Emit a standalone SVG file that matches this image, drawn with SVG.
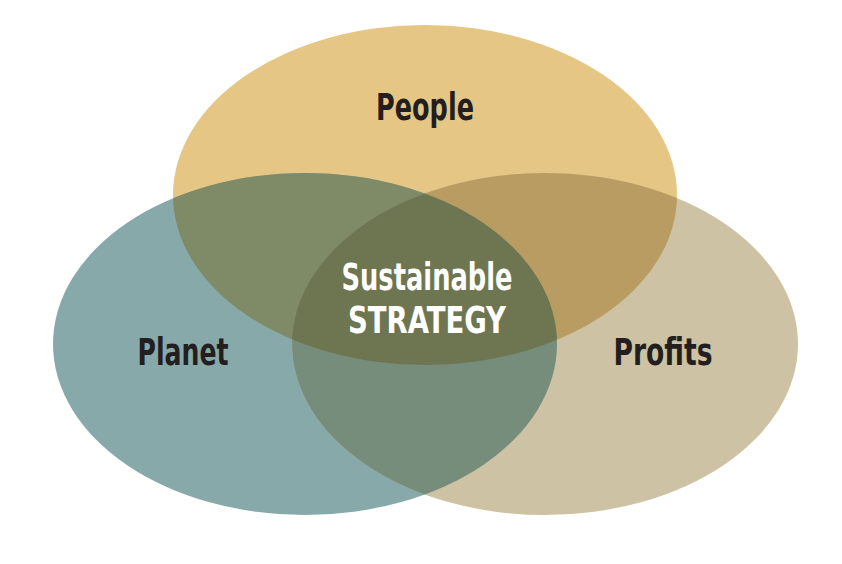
<svg xmlns="http://www.w3.org/2000/svg" width="842" height="564" viewBox="0 0 842 564">
<style>
.lbl{font-family:"DejaVu Sans Condensed","DejaVu Sans","Liberation Sans",sans-serif;font-stretch:condensed;font-weight:bold;font-size:37px;text-anchor:middle}
.dark{fill:#231f20}
.light{fill:#ffffff}
</style>
<defs>
<ellipse id="ePeople" cx="425" cy="195" rx="252" ry="170"/>
<ellipse id="ePlanet" cx="305" cy="344" rx="252" ry="171"/>
<ellipse id="eProfits" cx="545" cy="344" rx="253" ry="171"/>
<clipPath id="cPeople"><use href="#ePeople"/></clipPath>
<clipPath id="cPlanet"><use href="#ePlanet"/></clipPath>
<clipPath id="cProfits"><use href="#eProfits"/></clipPath>
</defs>
<rect width="842" height="564" fill="#ffffff"/>
<g id="people"><use href="#ePeople" fill="#e6c684"/></g>
<g id="planet"><use href="#ePlanet" fill="#87a9aa"/></g>
<g id="profits"><use href="#eProfits" fill="#cdc2a3"/></g>
<g id="overlaps">
<use href="#ePlanet" fill="#7f8a66" clip-path="url(#cPeople)"/>
<use href="#eProfits" fill="#b99c62" clip-path="url(#cPeople)"/>
<use href="#eProfits" fill="#778d7c" clip-path="url(#cPlanet)"/>
<g clip-path="url(#cPeople)"><use href="#eProfits" fill="#6e7551" clip-path="url(#cPlanet)"/></g>
</g>
<g id="labels">
<text class="lbl dark" x="425" y="120" textLength="98" lengthAdjust="spacingAndGlyphs">People</text>
<text class="lbl dark" x="183" y="365" textLength="91" lengthAdjust="spacingAndGlyphs">Planet</text>
<text class="lbl dark" x="663" y="365" textLength="99" lengthAdjust="spacingAndGlyphs">Profits</text>
<text class="lbl light" x="427" y="290" textLength="171" lengthAdjust="spacingAndGlyphs">Sustainable</text>
<text class="lbl light" x="427" y="333" textLength="158" lengthAdjust="spacingAndGlyphs">STRATEGY</text>
</g>
</svg>
